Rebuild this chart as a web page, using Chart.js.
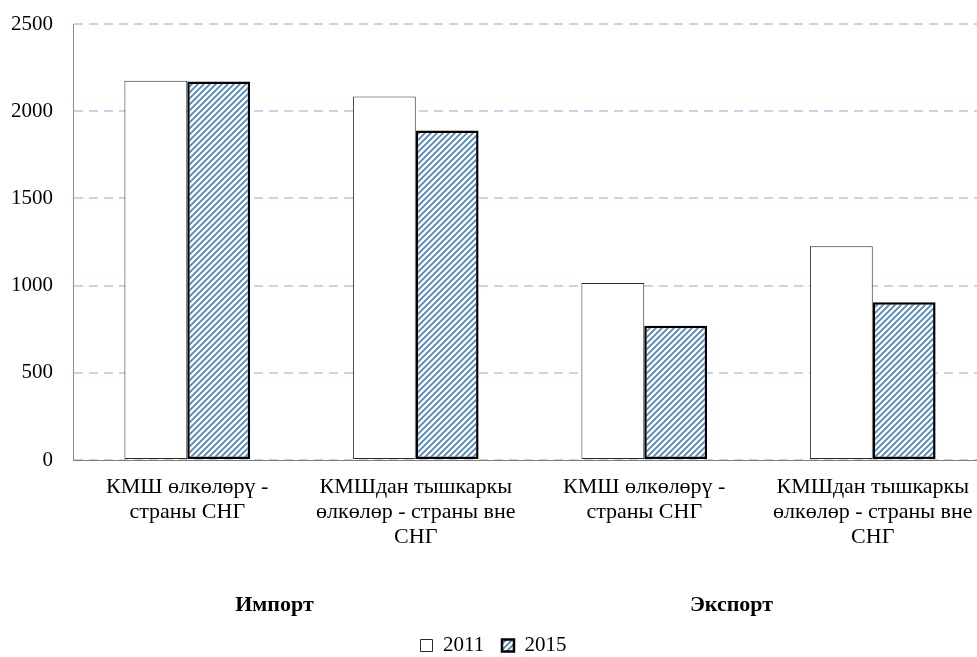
<!DOCTYPE html>
<html>
<head>
<meta charset="utf-8">
<script src="https://cdn.jsdelivr.net/npm/chart.js@4.4.1/dist/chart.umd.min.js"></script>
<style>
  html, body { margin: 0; padding: 0; background: #fff; overflow: hidden; }
  #wrap { width: 1000px; height: 657px; }
</style>
</head>
<body>
<div id="wrap"><canvas id="tradeBar"></canvas></div>
<script>
/*.............................data.............................*/
const categories = [
  ['КМШ өлкөлөрү -', 'страны СНГ'],
  ['КМШдан тышкаркы', 'өлкөлөр - страны вне', 'СНГ'],
  ['КМШ өлкөлөрү -', 'страны СНГ'],
  ['КМШдан тышкаркы', 'өлкөлөр - страны вне', 'СНГ']
];
const groups = ['Импорт', 'Экспорт'];
const groupMembers = [[0, 1], [2, 3]];
const years = ['2011', '2015'];
const values2011 = [2175, 2085, 1015, 1225];
const values2015 = [2170, 1890, 770, 905];

/*.............................hatch pattern.............................*/
function makeHatch() {
  const s = 6;
  const c = document.createElement('canvas');
  c.width = s; c.height = s;
  const g = c.getContext('2d');
  g.fillStyle = '#fff';
  g.fillRect(0, 0, s, s);
  g.strokeStyle = '#4f81bd';
  g.lineWidth = 1.7;
  g.beginPath();
  g.moveTo(-1, s + 1); g.lineTo(s + 1, -1);
  g.moveTo(-s - 1, s + 1); g.lineTo(1, -1);
  g.moveTo(-1, 2 * s + 1); g.lineTo(2 * s + 1, -1);
  g.stroke();
  return g.createPattern(c, 'repeat');
}
const hatch = makeHatch();

const serif = "'Liberation Serif', 'Times New Roman', serif";

// group captions under the category labels
const groupLabels = {
  id: 'groupLabels',
  afterDraw(chart) {
    const x = chart.scales.x;
    const ctx = chart.ctx;
    ctx.save();
    ctx.font = 'bold 22px ' + serif;
    ctx.fillStyle = '#000';
    ctx.textAlign = 'center';
    ctx.textBaseline = 'middle';
    groups.forEach((name, i) => {
      const idx = groupMembers[i];
      const mid = (x.getPixelForValue(idx[0]) + x.getPixelForValue(idx[idx.length - 1])) / 2;
      ctx.fillText(name, mid - 27, 605);
    });
    ctx.restore();
  }
};

const config = {
  type: 'bar',
  data: {
    labels: categories,
    datasets: [
      {
        label: years[0],
        data: values2011,
        backgroundColor: '#fff',
        borderColor: '#2b2b2b',
        borderWidth: 1,
        borderSkipped: false
      },
      {
        label: years[1],
        data: values2015,
        backgroundColor: hatch,
        borderColor: '#000',
        borderWidth: 2.5,
        borderSkipped: false
      }
    ]
  },
  options: {
    responsive: true,
    maintainAspectRatio: false,
    animation: false,
    layout: { padding: { top: 24, right: 13, left: 0, bottom: -9 } },
    datasets: {
      bar: { categoryPercentage: 0.55, barPercentage: 1 }
    },
    scales: {
      x: {
        grid: { display: false },
        border: { display: true, color: '#7f7f7f', width: 1 },
        ticks: {
          color: '#000',
          font: { family: serif, size: 22, lineHeight: 1.14 },
          padding: 7,
          maxRotation: 0,
          autoSkip: false
        },
        afterFit(scale) { scale.height = 173; }
      },
      y: {
        min: 0,
        max: 2500,
        ticks: {
          stepSize: 500,
          color: '#000',
          font: { family: serif, size: 21 },
          padding: 20,
          callback: (v) => String(v)
        },
        grid: {
          color: '#c5d5ec',
          lineWidth: 2,
          drawTicks: false
        },
        border: { display: true, color: '#8c8c8c', width: 1, dash: [9, 6] },
        afterFit(scale) {
          scale.width = 73;
          scale.paddingTop = 0; // label padding should not push the plot down
        }
      }
    },
    plugins: {
      legend: {
        position: 'bottom',
        labels: {
          color: '#000',
          boxWidth: 12,
          boxHeight: 12,
          padding: 2,
          font: { family: serif, size: 21 },
          generateLabels(chart) {
            const items = Chart.defaults.plugins.legend.labels.generateLabels(chart);
            // wider gap after the first entry
            items[0].text = items[0].text + '   ';
            return items;
          }
        }
      },
      tooltip: { enabled: false }
    }
  },
  plugins: [groupLabels]
};

const ctx = document.getElementById('tradeBar').getContext('2d');
const tradeBar = new Chart(ctx, config);
</script>
</body>
</html>
